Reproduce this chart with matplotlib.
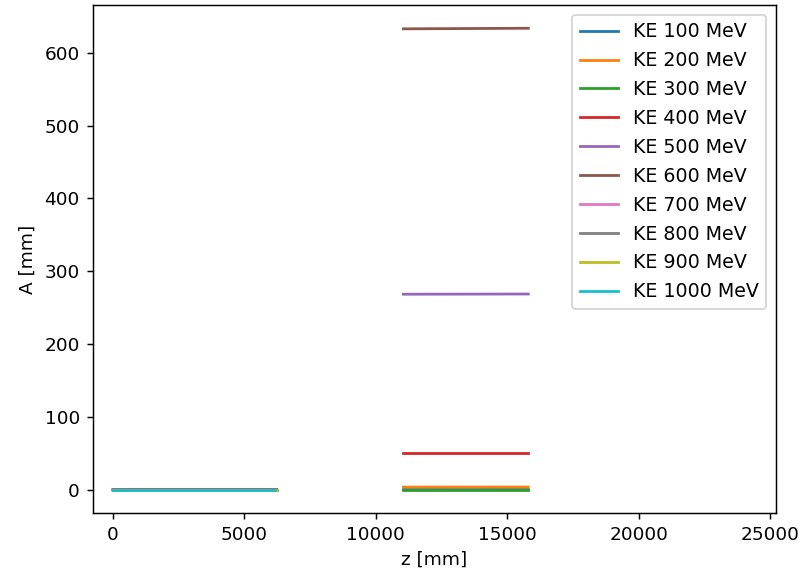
import numpy as np
import matplotlib
matplotlib.use("Agg")
import matplotlib.pyplot as plt

# kinetic energies [MeV]
ke_values = [100, 200, 300, 400, 500, 600, 700, 800, 900, 1000]

# first section: z range and amplitude (all ~0)
z1_start = [0, 0, 0, 0, 0, 0, 0, 0, 0, 0]
z1_end = [6230, 6230, 6230, 6230, 6230, 6230, 6230, 6230, 6230, 6170]
a1_start = [0, 0, 0, 0, 0, 0, 0, 0, 0, 0]
a1_end = [0, 0, 0, 0, 0, 0, 0, 0, 0, 0]

# second section (only the lower energies reach it)
z2_start = [11050, 11050, 11050, 11050, 11050, 11050, None, None, None, None]
z2_end = [15800, 15800, 15800, 15800, 15800, 15800, None, None, None, None]
a2_start = [1.5, 3.7, 0.4, 50.5, 268.5, 632.8, None, None, None, None]
a2_end = [1.5, 3.8, 0.4, 50.5, 268.8, 633.6, None, None, None, None]

scale = 1.33
fig = plt.figure(figsize=(7.99 / scale, 5.75 / scale), dpi=100 * scale)
ax = fig.add_subplot(111)
fig.subplots_adjust(left=0.116, right=0.971, bottom=0.108, top=0.991)

for i, ke in enumerate(ke_values):
    z = [z1_start[i], z1_end[i]]
    a = [a1_start[i], a1_end[i]]
    if z2_start[i] is not None:
        z += [np.nan, z2_start[i], z2_end[i]]
        a += [np.nan, a2_start[i], a2_end[i]]
    ax.plot(z, a, label=f"KE {ke} MeV")

ax.set_xlim(-772, 25217)
ax.set_xlabel("z [mm]")
ax.set_ylabel("A [mm]")
ax.legend(fontsize=10.3, labelspacing=0.52)

plt.savefig("out.png", dpi=100 * scale)
